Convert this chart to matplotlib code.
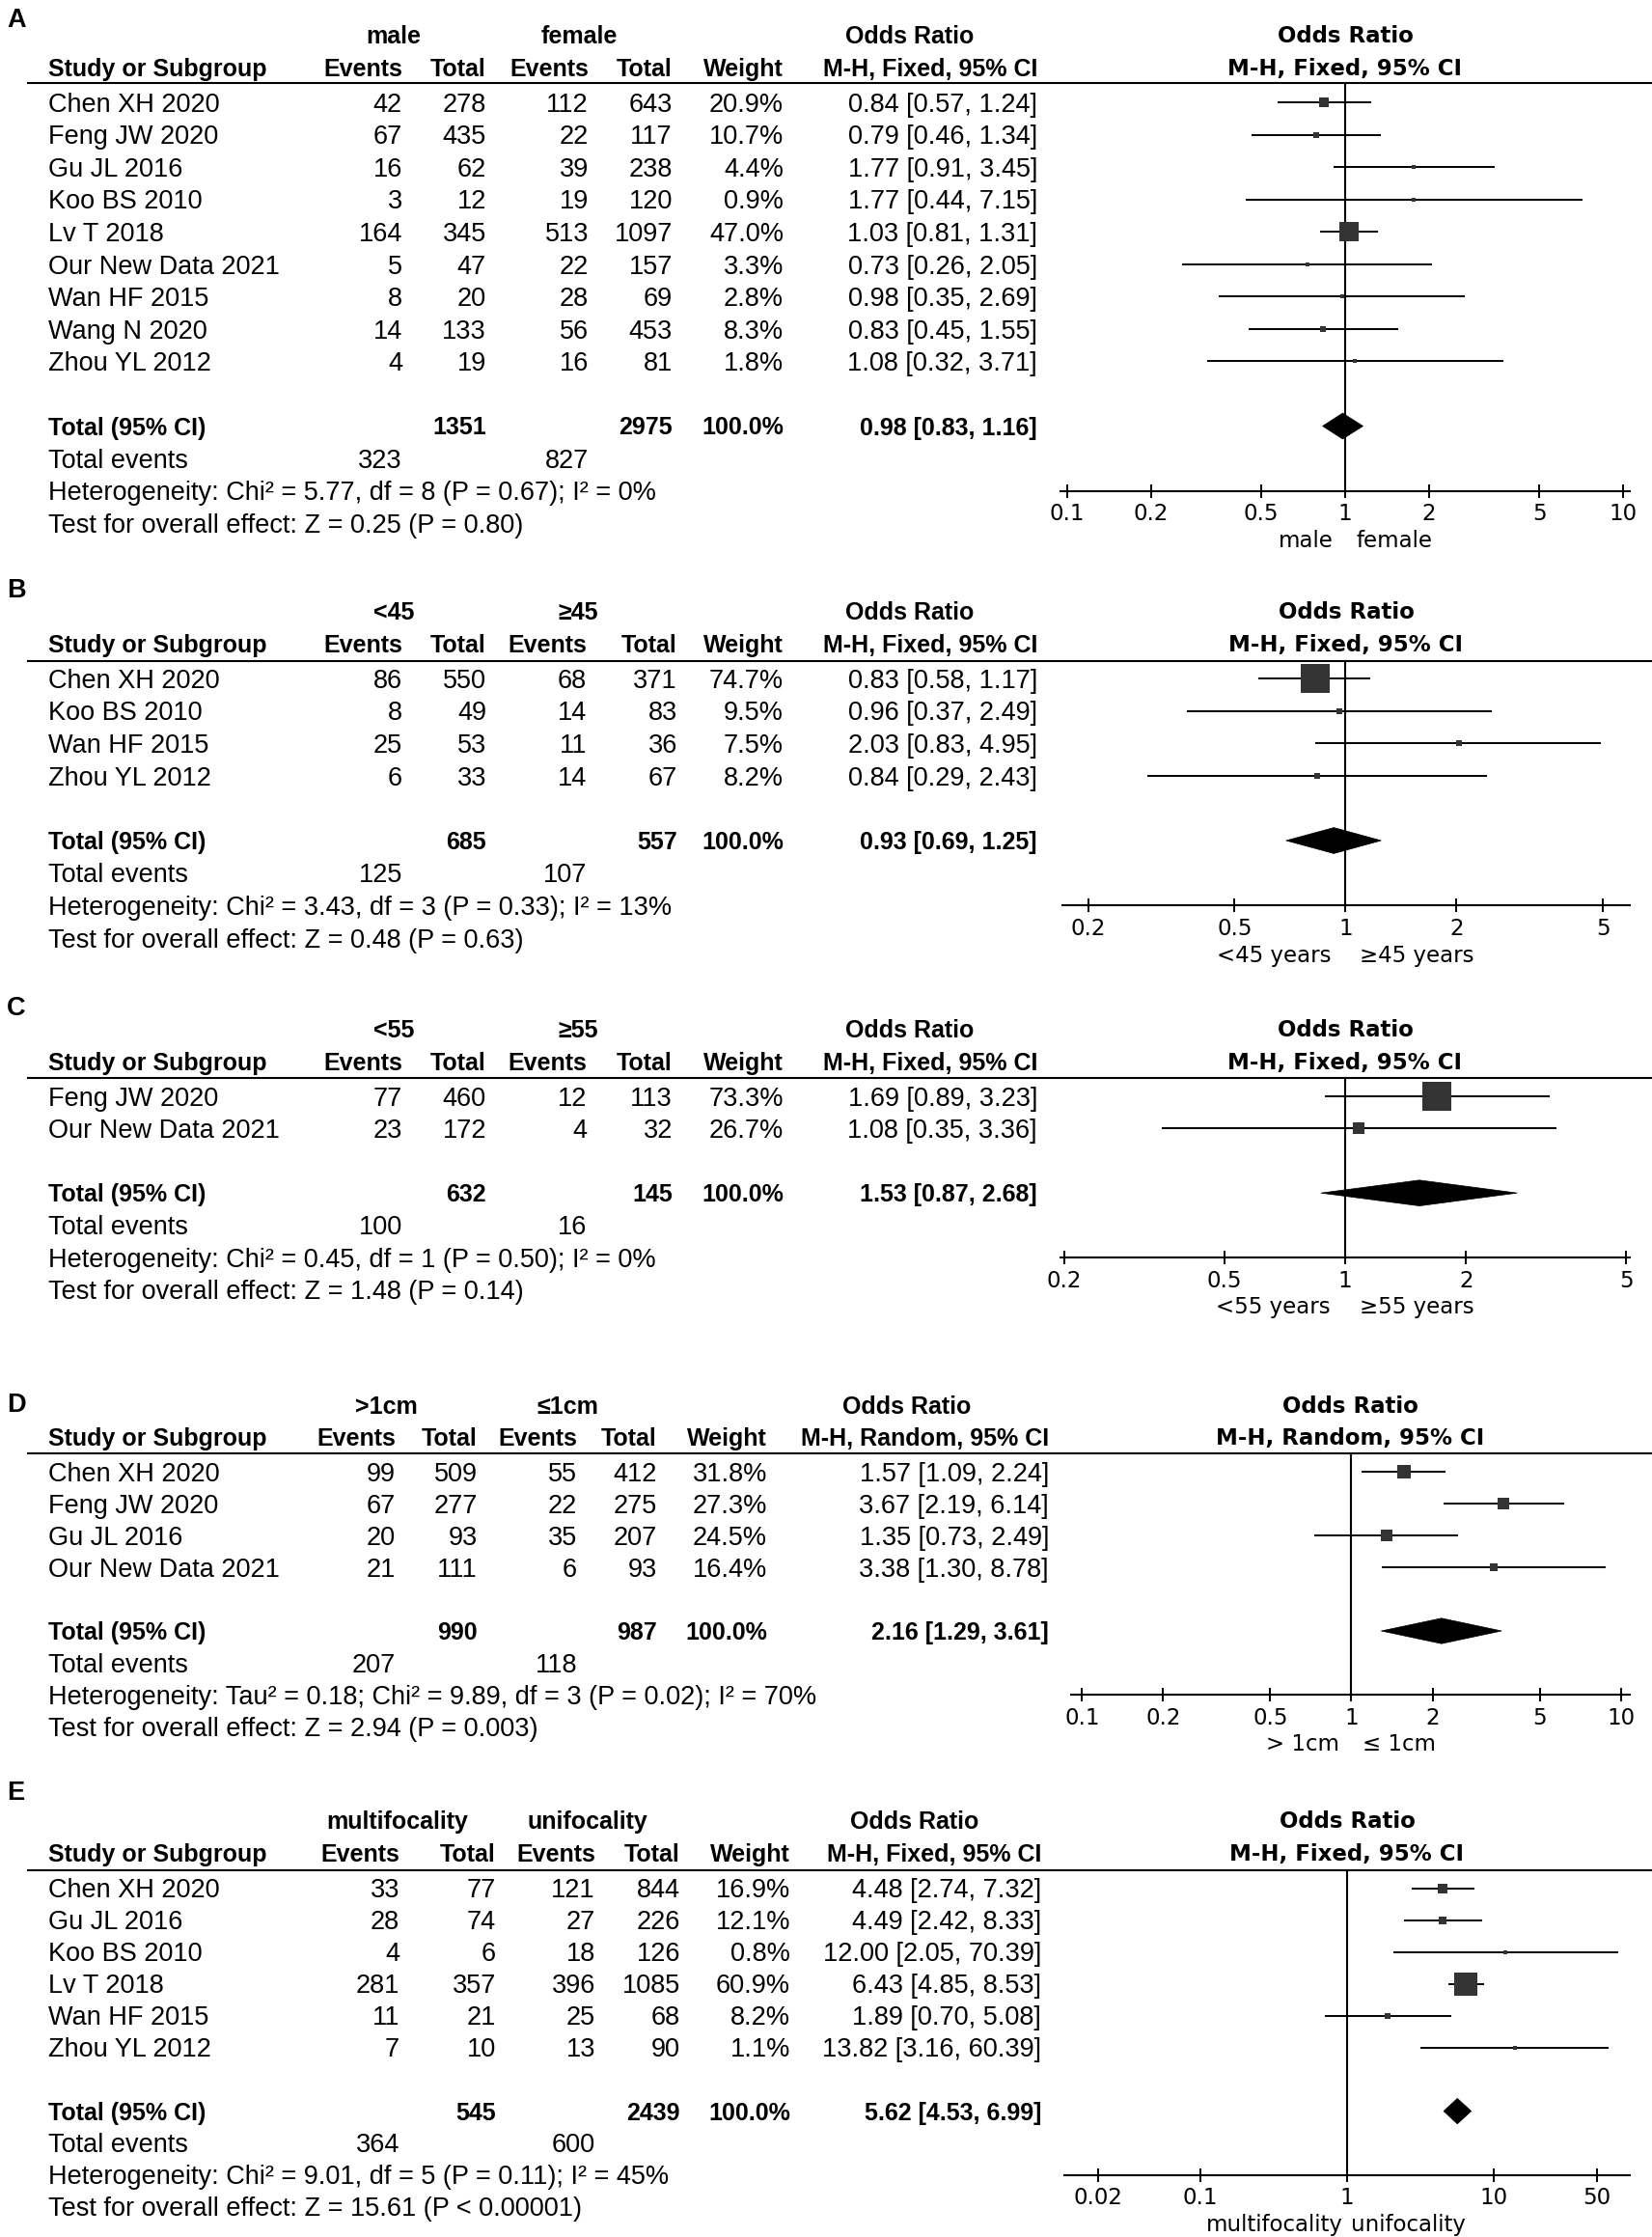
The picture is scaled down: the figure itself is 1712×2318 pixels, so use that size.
import matplotlib
matplotlib.use("Agg")
import matplotlib.pyplot as plt
import matplotlib.transforms as mtransforms
from matplotlib.patches import Polygon
from matplotlib.ticker import NullLocator, FixedLocator, FixedFormatter

# ------------------------------------------------------------------ data
TOTAL_WEIGHT = 100.0

# Panel A : sex
A_studies = ["Chen XH 2020", "Feng JW 2020", "Gu JL 2016", "Koo BS 2010", "Lv T 2018",
             "Our New Data 2021", "Wan HF 2015", "Wang N 2020", "Zhou YL 2012"]
A_ev1 = [42, 67, 16, 3, 164, 5, 8, 14, 4]
A_tot1 = [278, 435, 62, 12, 345, 47, 20, 133, 19]
A_ev2 = [112, 22, 39, 19, 513, 22, 28, 56, 16]
A_tot2 = [643, 117, 238, 120, 1097, 157, 69, 453, 81]
A_weight = [20.9, 10.7, 4.4, 0.9, 47.0, 3.3, 2.8, 8.3, 1.8]
A_or = [0.84, 0.79, 1.77, 1.77, 1.03, 0.73, 0.98, 0.83, 1.08]
A_lo = [0.57, 0.46, 0.91, 0.44, 0.81, 0.26, 0.35, 0.45, 0.32]
A_hi = [1.24, 1.34, 3.45, 7.15, 1.31, 2.05, 2.69, 1.55, 3.71]
A_totals = [1351, 2975]
A_events = [323, 827]
A_pooled = [0.98, 0.83, 1.16]
A_groups = ["male", "female"]
A_favours = ["male", "female"]
A_het = "Heterogeneity: Chi² = 5.77, df = 8 (P = 0.67); I² = 0%"
A_test = "Test for overall effect: Z = 0.25 (P = 0.80)"
A_ticks = [0.1, 0.2, 0.5, 1, 2, 5, 10]
A_ticklabels = ["0.1", "0.2", "0.5", "1", "2", "5", "10"]

# Panel B : age 45
B_studies = ["Chen XH 2020", "Koo BS 2010", "Wan HF 2015", "Zhou YL 2012"]
B_ev1 = [86, 8, 25, 6]
B_tot1 = [550, 49, 53, 33]
B_ev2 = [68, 14, 11, 14]
B_tot2 = [371, 83, 36, 67]
B_weight = [74.7, 9.5, 7.5, 8.2]
B_or = [0.83, 0.96, 2.03, 0.84]
B_lo = [0.58, 0.37, 0.83, 0.29]
B_hi = [1.17, 2.49, 4.95, 2.43]
B_totals = [685, 557]
B_events = [125, 107]
B_pooled = [0.93, 0.69, 1.25]
B_groups = ["<45", "≥45"]
B_favours = ["<45 years", "≥45 years"]
B_het = "Heterogeneity: Chi² = 3.43, df = 3 (P = 0.33); I² = 13%"
B_test = "Test for overall effect: Z = 0.48 (P = 0.63)"
B_ticks = [0.2, 0.5, 1, 2, 5]
B_ticklabels = ["0.2", "0.5", "1", "2", "5"]

# Panel C : age 55
C_studies = ["Feng JW 2020", "Our New Data 2021"]
C_ev1 = [77, 23]
C_tot1 = [460, 172]
C_ev2 = [12, 4]
C_tot2 = [113, 32]
C_weight = [73.3, 26.7]
C_or = [1.69, 1.08]
C_lo = [0.89, 0.35]
C_hi = [3.23, 3.36]
C_totals = [632, 145]
C_events = [100, 16]
C_pooled = [1.53, 0.87, 2.68]
C_groups = ["<55", "≥55"]
C_favours = ["<55 years", "≥55 years"]
C_het = "Heterogeneity: Chi² = 0.45, df = 1 (P = 0.50); I² = 0%"
C_test = "Test for overall effect: Z = 1.48 (P = 0.14)"
C_ticks = [0.2, 0.5, 1, 2, 5]
C_ticklabels = ["0.2", "0.5", "1", "2", "5"]

# Panel D : tumour size
D_studies = ["Chen XH 2020", "Feng JW 2020", "Gu JL 2016", "Our New Data 2021"]
D_ev1 = [99, 67, 20, 21]
D_tot1 = [509, 277, 93, 111]
D_ev2 = [55, 22, 35, 6]
D_tot2 = [412, 275, 207, 93]
D_weight = [31.8, 27.3, 24.5, 16.4]
D_or = [1.57, 3.67, 1.35, 3.38]
D_lo = [1.09, 2.19, 0.73, 1.30]
D_hi = [2.24, 6.14, 2.49, 8.78]
D_totals = [990, 987]
D_events = [207, 118]
D_pooled = [2.16, 1.29, 3.61]
D_groups = [">1cm", "≤1cm"]
D_favours = ["> 1cm", "≤ 1cm"]
D_het = "Heterogeneity: Tau² = 0.18; Chi² = 9.89, df = 3 (P = 0.02); I² = 70%"
D_test = "Test for overall effect: Z = 2.94 (P = 0.003)"
D_ticks = [0.1, 0.2, 0.5, 1, 2, 5, 10]
D_ticklabels = ["0.1", "0.2", "0.5", "1", "2", "5", "10"]

# Panel E : focality
E_studies = ["Chen XH 2020", "Gu JL 2016", "Koo BS 2010", "Lv T 2018", "Wan HF 2015", "Zhou YL 2012"]
E_ev1 = [33, 28, 4, 281, 11, 7]
E_tot1 = [77, 74, 6, 357, 21, 10]
E_ev2 = [121, 27, 18, 396, 25, 13]
E_tot2 = [844, 226, 126, 1085, 68, 90]
E_weight = [16.9, 12.1, 0.8, 60.9, 8.2, 1.1]
E_or = [4.48, 4.49, 12.00, 6.43, 1.89, 13.82]
E_lo = [2.74, 2.42, 2.05, 4.85, 0.70, 3.16]
E_hi = [7.32, 8.33, 70.39, 8.53, 5.08, 60.39]
E_totals = [545, 2439]
E_events = [364, 600]
E_pooled = [5.62, 4.53, 6.99]
E_groups = ["multifocality", "unifocality"]
E_favours = ["multifocality", "unifocality"]
E_het = "Heterogeneity: Chi² = 9.01, df = 5 (P = 0.11); I² = 45%"
E_test = "Test for overall effect: Z = 15.61 (P < 0.00001)"
E_ticks = [0.02, 0.1, 1, 10, 50]
E_ticklabels = ["0.02", "0.1", "1", "10", "50"]

panels = [
    dict(letter="A", method="Fixed", studies=A_studies, ev1=A_ev1, tot1=A_tot1, ev2=A_ev2, tot2=A_tot2,
         weight=A_weight, est=A_or, lo=A_lo, hi=A_hi, totals=A_totals, events=A_events, pooled=A_pooled,
         groups=A_groups, favours=A_favours, het=A_het, test=A_test, ticks=A_ticks, ticklabels=A_ticklabels),
    dict(letter="B", method="Fixed", studies=B_studies, ev1=B_ev1, tot1=B_tot1, ev2=B_ev2, tot2=B_tot2,
         weight=B_weight, est=B_or, lo=B_lo, hi=B_hi, totals=B_totals, events=B_events, pooled=B_pooled,
         groups=B_groups, favours=B_favours, het=B_het, test=B_test, ticks=B_ticks, ticklabels=B_ticklabels),
    dict(letter="C", method="Fixed", studies=C_studies, ev1=C_ev1, tot1=C_tot1, ev2=C_ev2, tot2=C_tot2,
         weight=C_weight, est=C_or, lo=C_lo, hi=C_hi, totals=C_totals, events=C_events, pooled=C_pooled,
         groups=C_groups, favours=C_favours, het=C_het, test=C_test, ticks=C_ticks, ticklabels=C_ticklabels),
    dict(letter="D", method="Random", studies=D_studies, ev1=D_ev1, tot1=D_tot1, ev2=D_ev2, tot2=D_tot2,
         weight=D_weight, est=D_or, lo=D_lo, hi=D_hi, totals=D_totals, events=D_events, pooled=D_pooled,
         groups=D_groups, favours=D_favours, het=D_het, test=D_test, ticks=D_ticks, ticklabels=D_ticklabels),
    dict(letter="E", method="Fixed", studies=E_studies, ev1=E_ev1, tot1=E_tot1, ev2=E_ev2, tot2=E_tot2,
         weight=E_weight, est=E_or, lo=E_lo, hi=E_hi, totals=E_totals, events=E_events, pooled=E_pooled,
         groups=E_groups, favours=E_favours, het=E_het, test=E_test, ticks=E_ticks, ticklabels=E_ticklabels),
]

# ------------------------------------------------------------------ layout (pixels)
layouts = [
    dict(letter_y=18, group_y=36, header_y=70, rule_y=86, row0=106, rh=33.55,
         ax_x=(1099, 1689), xlim=(0.0947, 10.57), cols=[417, 504, 610, 697, 812, 1075],
         group_x=[408, 600], or_x=943, gap=12),
    dict(letter_y=609, group_y=633, header_y=667, rule_y=685, row0=703, rh=33.6,
         ax_x=(1101, 1689), xlim=(0.1704, 5.917), cols=[417, 504, 608, 702, 812, 1075],
         group_x=[408, 599], or_x=943, gap=15),
    dict(letter_y=1042, group_y=1066, header_y=1100, rule_y=1117, row0=1136, rh=33.4,
         ax_x=(1099, 1689), xlim=(0.1956, 5.11), cols=[417, 504, 608, 697, 812, 1075],
         group_x=[408, 599], or_x=943, gap=15),
    dict(letter_y=1453, group_y=1456, header_y=1489, rule_y=1505.5, row0=1525, rh=33.0,
         ax_x=(1110, 1689), xlim=(0.0911, 10.8), cols=[410, 495, 598, 681, 795, 1087],
         group_x=[400, 588], or_x=940, gap=12),
    dict(letter_y=1855, group_y=1886, header_y=1920, rule_y=1937.5, row0=1956.6, rh=33.0,
         ax_x=(1103, 1689), xlim=(0.01183, 84.0), cols=[414, 514, 617, 705, 819, 1079],
         group_x=[412, 609], or_x=948, gap=4),
]

W, H = 1712, 2318
PX = 100 / 72.0
LEFT_FONT = ["Liberation Sans", "DejaVu Sans"]
RIGHT_FONT = ["DejaVu Sans"]
FS_ROW, FS_HEAD, FS_R = 19.5, 18.0, 16.5
STUDY_X = 50.5

fig = plt.figure(figsize=(W / 100, H / 100), dpi=100)
fig.patch.set_facecolor("white")
tax = fig.add_axes([0, 0, 1, 1])
tax.set_xlim(0, W)
tax.set_ylim(H, 0)
tax.axis("off")


def ltext(x, y, s, ha="left", bold=False, size=None):
    size = size or (FS_HEAD if bold else FS_ROW)
    tax.text(x, y + 0.36 * size * PX, s, ha=ha, va="baseline", fontsize=size,
             fontweight="bold" if bold else "normal", family=LEFT_FONT, color="black")


def rtext(x, y, s, ha="center", bold=True, size=FS_R):
    tax.text(x, y + 0.365 * size * PX, s, ha=ha, va="baseline", fontsize=size,
             fontweight="bold" if bold else "normal", family=RIGHT_FONT, color="black")


for p, L in zip(panels, layouts):
    n = len(p["studies"])
    ty = lambda r: L["row0"] + r * L["rh"]
    cols = L["cols"]

    # panel letter
    ltext(7, L["letter_y"], p["letter"], bold=True, size=19.5)

    # group header
    ltext(L["group_x"][0], L["group_y"], p["groups"][0], ha="center", bold=True)
    ltext(L["group_x"][1], L["group_y"], p["groups"][1], ha="center", bold=True)
    ltext(L["or_x"], L["group_y"], "Odds Ratio", ha="center", bold=True)

    # column header
    ltext(STUDY_X, L["header_y"], "Study or Subgroup", bold=True)
    heads = ["Events", "Total", "Events", "Total", "Weight", "M-H, %s, 95%% CI" % p["method"]]
    for c, s in zip(cols, heads):
        ltext(c, L["header_y"], s, ha="right", bold=True)

    # rule line
    tax.plot([28, W], [L["rule_y"], L["rule_y"]], color="black", lw=1.5, solid_capstyle="butt")

    # study rows
    for i in range(n):
        y = ty(i)
        ltext(STUDY_X, y, p["studies"][i])
        vals = [str(p["ev1"][i]), str(p["tot1"][i]), str(p["ev2"][i]), str(p["tot2"][i]),
                "%.1f%%" % p["weight"][i],
                "%.2f [%.2f, %.2f]" % (p["est"][i], p["lo"][i], p["hi"][i])]
        for c, s in zip(cols, vals):
            ltext(c, y, s, ha="right")

    # total row
    yt = ty(n + 1)
    ltext(STUDY_X, yt, "Total (95% CI)", bold=True)
    ltext(cols[1], yt, str(p["totals"][0]), ha="right", bold=True)
    ltext(cols[3], yt, str(p["totals"][1]), ha="right", bold=True)
    ltext(cols[4], yt, "%.1f%%" % TOTAL_WEIGHT, ha="right", bold=True)
    ltext(cols[5], yt, "%.2f [%.2f, %.2f]" % tuple(p["pooled"]), ha="right", bold=True)

    ye = ty(n + 2)
    ltext(STUDY_X, ye, "Total events")
    ltext(cols[0], ye, str(p["events"][0]), ha="right")
    ltext(cols[2], ye, str(p["events"][1]), ha="right")
    ltext(STUDY_X, ty(n + 3), p["het"])
    ltext(STUDY_X, ty(n + 4), p["test"])

    # forest axes
    axis_y = ty(n + 3)
    x0, x1 = L["ax_x"]
    ax = fig.add_axes([x0 / W, 1 - axis_y / H, (x1 - x0) / W, (axis_y - L["rule_y"]) / H])
    ax.patch.set_visible(False)
    ax.set_xscale("log")
    ax.set_xlim(*L["xlim"])
    ax.set_ylim((axis_y - L["row0"]) / L["rh"], (L["rule_y"] - L["row0"]) / L["rh"])
    for s in ["top", "left", "right"]:
        ax.spines[s].set_visible(False)
    ax.spines["bottom"].set_linewidth(1.5)
    ax.xaxis.set_major_locator(FixedLocator(p["ticks"]))
    ax.xaxis.set_major_formatter(FixedFormatter(p["ticklabels"]))
    ax.xaxis.set_minor_locator(NullLocator())
    ax.yaxis.set_major_locator(NullLocator())
    ax.yaxis.set_minor_locator(NullLocator())
    ax.tick_params(axis="x", direction="inout", length=10.7, width=1.4, pad=3.7,
                   labelsize=FS_R, colors="black")
    for lab in ax.get_xticklabels():
        lab.set_family(RIGHT_FONT)

    ax.axvline(1, color="black", lw=1.5, zorder=1)

    for i in range(n):
        ax.plot([p["lo"][i], p["hi"][i]], [i, i], color="black", lw=1.4, zorder=2,
                solid_capstyle="butt")
        side_px = 3 + 0.36 * p["weight"][i]
        ax.plot([p["est"][i]], [i], marker="s", ms=side_px * 0.72, mew=0,
                color="#333333", zorder=3, linestyle="none")

    est, lo, hi = p["pooled"]
    r = n + 1
    h = 0.4
    ax.add_patch(Polygon([(lo, r), (est, r - h), (hi, r), (est, r + h)], closed=True,
                         facecolor="black", edgecolor="black", lw=0.5, zorder=3))

    # right-hand header
    cx = (x0 + x1) / 2
    rtext(cx, L["group_y"], "Odds Ratio")
    rtext(cx, L["header_y"], "M-H, %s, 95%% CI" % p["method"])

    # favours labels
    trans = mtransforms.blended_transform_factory(ax.transData, tax.transData)
    fy = axis_y + 50 + 0.365 * FS_R * PX
    g = L["gap"]
    ax_l = mtransforms.offset_copy(trans, fig=fig, x=-g, y=0, units="dots")
    ax_r = mtransforms.offset_copy(trans, fig=fig, x=g, y=0, units="dots")
    tax.text(1, fy, p["favours"][0], ha="right", va="baseline", fontsize=FS_R,
             family=RIGHT_FONT, transform=ax_l)
    tax.text(1, fy, p["favours"][1], ha="left", va="baseline", fontsize=FS_R,
             family=RIGHT_FONT, transform=ax_r)

fig.savefig("out.png", dpi=100, facecolor="white")
